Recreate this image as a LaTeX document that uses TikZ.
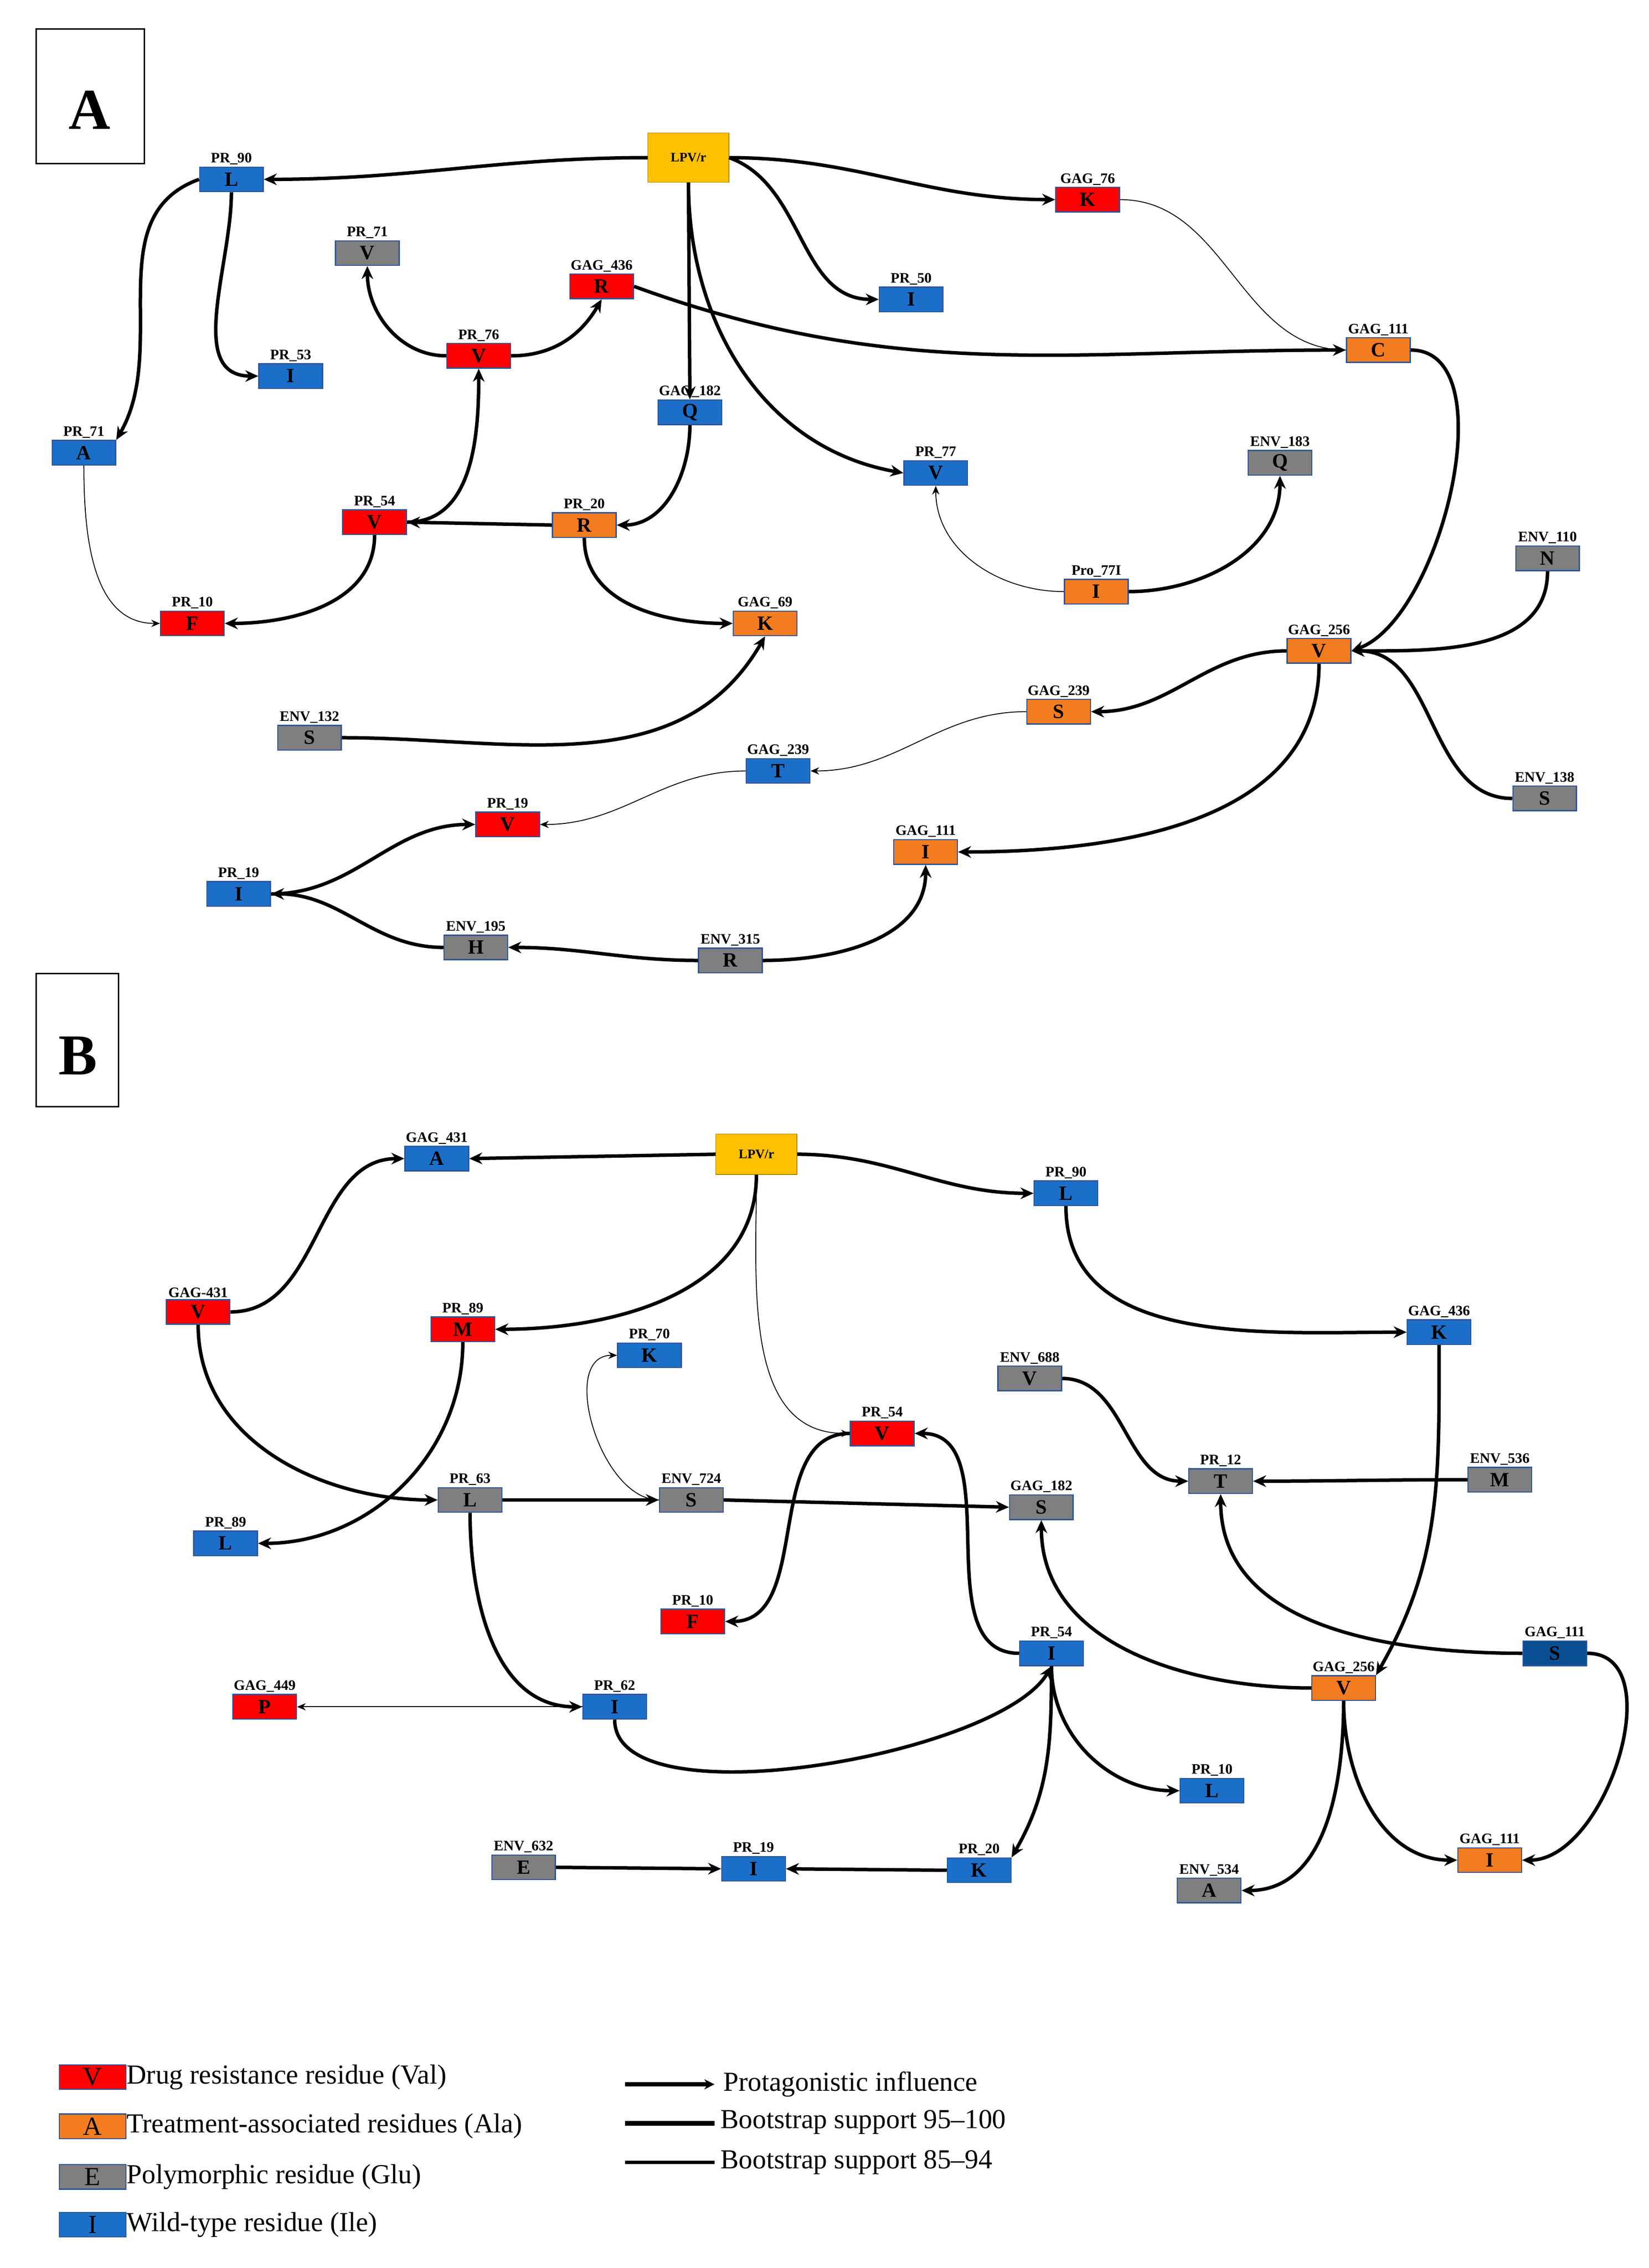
\documentclass[tikz,border=0pt]{standalone}
\usepackage{fontspec}
\setmainfont{Liberation Serif}
\usetikzlibrary{arrows.meta}
\definecolor{cR}{HTML}{FF0000}
\definecolor{cO}{HTML}{F47C20}
\definecolor{cG}{HTML}{7F7F7F}
\definecolor{cB}{HTML}{1C6FC9}
\definecolor{cD}{HTML}{0A4F94}
\definecolor{cY}{HTML}{FFC000}
\definecolor{bd}{HTML}{2F5597}
\tikzset{
 res/.style={draw=bd,line width=0.8pt,minimum width=44pt,minimum height=17pt,inner sep=0pt,font=\bfseries\fontsize{14}{14}\selectfont},
 lab/.style={font=\bfseries\fontsize{10}{10}\selectfont,inner sep=1pt},
 tk/.style={line width=2.4pt,-{Stealth[length=9pt,width=8pt]}},
 tn/.style={line width=0.6pt,-{Stealth[length=6pt,width=5pt]}},
 lpv/.style={draw=cY!70!black,fill=cY,minimum width=56pt,minimum height=34pt,inner sep=0pt,font=\bfseries\fontsize{9}{9}\selectfont}
}
\newcommand\rn[6]{\node[res,fill=#4] (#1) at (#2,#3) {#5};
 \node[lab,anchor=south] at (#1.north) {#6};}
\begin{document}
\begin{tikzpicture}[x=1pt,y=-1pt]
\useasboundingbox (0,0) rectangle (1140,1568);
% ---------- Panel A
\draw[line width=1pt] (25,20) rectangle (100,113);
\node[font=\bfseries\fontsize{40}{40}\selectfont] at (62,76) {A};
\node[lpv] (a0) at (476,109) {LPV/r};
\rn{a1}{160}{124}{cB}{L}{PR\_90}
\rn{a2}{752}{138}{cR}{K}{GAG\_76}
\rn{a3}{254}{175}{cG}{V}{PR\_71}
\rn{a4}{416}{198}{cR}{R}{GAG\_436}
\rn{a5}{630}{207}{cB}{I}{PR\_50}
\rn{a6}{201}{260}{cB}{I}{PR\_53}
\rn{a7}{331}{246}{cR}{V}{PR\_76}
\rn{a8}{953}{242}{cO}{C}{GAG\_111}
\rn{a9}{477}{285}{cB}{Q}{GAG\_182}
\rn{a10}{58}{313}{cB}{A}{PR\_71}
\rn{a11}{647}{327}{cB}{V}{PR\_77}
\rn{a12}{885}{320}{cG}{Q}{ENV\_183}
\rn{a13}{259}{361}{cR}{V}{PR\_54}
\rn{a14}{404}{363}{cO}{R}{PR\_20}
\rn{a15}{1070}{386}{cG}{N}{ENV\_110}
\rn{a16}{758}{409}{cO}{I}{Pro\_77I}
\rn{a17}{133}{431}{cR}{F}{PR\_10}
\rn{a18}{529}{431}{cO}{K}{GAG\_69}
\rn{a19}{912}{450}{cO}{V}{GAG\_256}
\rn{a20}{732}{492}{cO}{S}{GAG\_239}
\rn{a21}{214}{510}{cG}{S}{ENV\_132}
\rn{a22}{538}{533}{cB}{T}{GAG\_239}
\rn{a23}{1068}{552}{cG}{S}{ENV\_138}
\rn{a24}{351}{570}{cR}{V}{PR\_19}
\rn{a25}{640}{589}{cO}{I}{GAG\_111}
\rn{a26}{165}{618}{cB}{I}{PR\_19}
\rn{a27}{329}{655}{cG}{H}{ENV\_195}
\rn{a28}{505}{664}{cG}{R}{ENV\_315}
\draw[tk] (a0.west) to[out=180,in=0] (a1.east);
\draw[tk] (a0.east) to[out=0,in=180] (a2.west);
\draw[tk] (a0.east) to[out=-20,in=180] (a5.west);
\draw[tk] (a0.south) -- (a9.north);
\draw[tk] (a0.south) to[out=-90,in=170] (a11.west);
\draw[tk] (a1.south) to[out=-90,in=180] (a6.west);
\draw[tk] (a1.west) to[out=200,in=60] (a10.north east);
\draw[tn] (a10.south) to[out=-90,in=180] (a17.west);
\draw[tk] (a7.west) to[out=180,in=-90] (a3.south);
\draw[tk] (a7.east) to[out=0,in=-120] (a4.south);
\draw[tk] (a4.east) to[out=-20,in=180] (a8.west);
\draw[line width=0.6pt] (a2.east) to[out=0,in=180] (a8.west);
\draw[tk] (a9.south) to[out=-90,in=0] (a14.east);
\draw[tk] (a14.west) -- (a13.east);
\draw[tk] (a13.east) to[out=0,in=-90] (a7.south);
\draw[tk] (a13.south) to[out=-90,in=0] (a17.east);
\draw[tk] (a14.south) to[out=-90,in=180] (a18.west);
\draw[tk] (a21.east) to[out=0,in=-120] (a18.south);
\draw[tn] (a16.west) to[out=180,in=-90] (a11.south);
\draw[tk] (a16.east) to[out=0,in=-90] (a12.south);
\draw[tk] (a8.east) to[out=0,in=20,looseness=0.8] (a19.east);
\draw[tk] (a15.south) to[out=-90,in=0] (a19.east);
\draw[tk] (a23.west) to[out=180,in=0] (a19.east);
\draw[tk] (a19.west) to[out=180,in=0] (a20.east);
\draw[tk] (a19.south) to[out=-90,in=0] (a25.east);
\draw[tn] (a20.west) to[out=180,in=0] (a22.east);
\draw[tn] (a22.west) to[out=180,in=0] (a24.east);
\draw[tk] (a26.east) to[out=0,in=180] (a24.west);
\draw[tk] (a27.west) to[out=180,in=0] (a26.east);
\draw[tk] (a28.west) to[out=180,in=0] (a27.east);
\draw[tk] (a28.east) to[out=0,in=-90] (a25.south);
% ---------- Panel B
\draw[line width=1pt] (25,673) rectangle (82,765);
\node[font=\bfseries\fontsize{40}{40}\selectfont] at (54,730) {B};
\node[lpv,minimum height=28pt] (b0) at (523,798) {LPV/r};
\rn{b1}{302}{801}{cB}{A}{GAG\_431}
\rn{b2}{737}{825}{cB}{L}{PR\_90}
\rn{b3}{137}{907}{cR}{V}{GAG-431}
\rn{b4}{320}{919}{cR}{M}{PR\_89}
\rn{b5}{995}{921}{cB}{K}{GAG\_436}
\rn{b6}{449}{937}{cB}{K}{PR\_70}
\rn{b7}{712}{953}{cG}{V}{ENV\_688}
\rn{b8}{610}{991}{cR}{V}{PR\_54}
\rn{b9}{844}{1024}{cG}{T}{PR\_12}
\rn{b10}{1037}{1023}{cG}{M}{ENV\_536}
\rn{b11}{325}{1037}{cG}{L}{PR\_63}
\rn{b12}{478}{1037}{cG}{S}{ENV\_724}
\rn{b13}{720}{1042}{cG}{S}{GAG\_182}
\rn{b14}{156}{1067}{cB}{L}{PR\_89}
\rn{b15}{479}{1121}{cR}{F}{PR\_10}
\rn{b16}{1075}{1143}{cD}{S}{GAG\_111}
\rn{b17}{727}{1143}{cB}{I}{PR\_54}
\rn{b18}{929}{1167}{cO}{V}{GAG\_256}
\rn{b19}{183}{1180}{cR}{P}{GAG\_449}
\rn{b20}{425}{1180}{cB}{I}{PR\_62}
\rn{b21}{838}{1238}{cB}{L}{PR\_10}
\rn{b22}{362}{1291}{cG}{E}{ENV\_632}
\rn{b23}{521}{1292}{cB}{I}{PR\_19}
\rn{b24}{677}{1293}{cB}{K}{PR\_20}
\rn{b25}{836}{1307}{cG}{A}{ENV\_534}
\rn{b26}{1030}{1286}{cO}{I}{GAG\_111}
\draw[tk] (b0.west) -- (b1.east);
\draw[tk] (b0.east) to[out=0,in=180] (b2.west);
\draw[tk] (b0.south) to[out=-90,in=0] (b4.east);
\draw[tn] (b0.south) to[out=-90,in=180] (b8.west);
\draw[tk] (b3.east) to[out=0,in=180] (b1.west);
\draw[tk] (b3.south) to[out=-90,in=180] (b11.west);
\draw[tk] (b2.south) to[out=-90,in=180] (b5.west);
\draw[tk] (b5.south) to[out=-90,in=60] (b18.north east);
\draw[tk] (b4.south) to[out=-90,in=0] (b14.east);
\draw[tn] (b12.west) to[out=180,in=180] (b6.west);
\draw[tk] (b11.east) -- (b12.west);
\draw[tk] (b12.east) -- (b13.west);
\draw[tk] (b11.south) to[out=-90,in=180] (b20.west);
\draw[tk] (b7.east) to[out=0,in=180] (b9.west);
\draw[tk] (b10.west) to[out=180,in=0] (b9.east);
\draw[tk] (b16.west) to[out=180,in=-90] (b9.south);
\draw[tk] (b16.east) to[out=0,in=0] (b26.east);
\draw[tk] (b8.west) to[out=180,in=0] (b15.east);
\draw[tk] (b17.west) to[out=180,in=0] (b8.east);
\draw[tk] (b20.south) to[out=-90,in=-120,looseness=0.6] (b17.south);
\draw[tn] (b20.west) -- (b19.east);
\draw[tk] (b17.south) to[out=-90,in=180] (b21.west);
\draw[tk] (b17.south) to[out=-90,in=60] (b24.north east);
\draw[tk] (b24.west) -- (b23.east);
\draw[tk] (b22.east) -- (b23.west);
\draw[tk] (b18.west) to[out=180,in=-90] (b13.south);
\draw[tk] (b18.south) to[out=-90,in=0] (b25.east);
\draw[tk] (b18.south) to[out=-90,in=180] (b26.west);
% ---------- Legend
\tikzset{lg/.style={draw=bd,line width=0.8pt,minimum width=46pt,minimum height=17pt,inner sep=0pt,font=\fontsize{18}{18}\selectfont},
 lt/.style={anchor=west,font=\fontsize{19}{19}\selectfont,inner sep=0pt}}
\node[lg,fill=cR] (l1) at (64,1436) {V}; \node[lt] at (l1.east) {Drug resistance residue (Val)};
\node[lg,fill=cO] (l2) at (64,1470) {A}; \node[lt] at (l2.east) {Treatment-associated residues (Ala)};
\node[lg,fill=cG] (l3) at (64,1505) {E}; \node[lt] at (l3.east) {Polymorphic residue (Glu)};
\node[lg,fill=cB] (l4) at (64,1538) {I}; \node[lt] at (l4.east) {Wild-type residue (Ile)};
\coordinate (m1) at (432,1441); \coordinate (m1e) at (494,1441);
\coordinate (m2) at (432,1468); \coordinate (m2e) at (494,1468);
\coordinate (m3) at (432,1495); \coordinate (m3e) at (494,1495);
\draw[line width=2.8pt,-{Stealth[length=7pt,width=7pt]}] (m1) -- (m1e);
\draw[line width=3.2pt] (m2) -- (m2e);
\draw[line width=2.4pt] (m3) -- (m3e);
\node[lt] at (500,1441) {Protagonistic influence};
\node[lt] at (498,1467) {Bootstrap support 95--100};
\node[lt] at (498,1495) {Bootstrap support 85--94};
\end{tikzpicture}
\end{document}
